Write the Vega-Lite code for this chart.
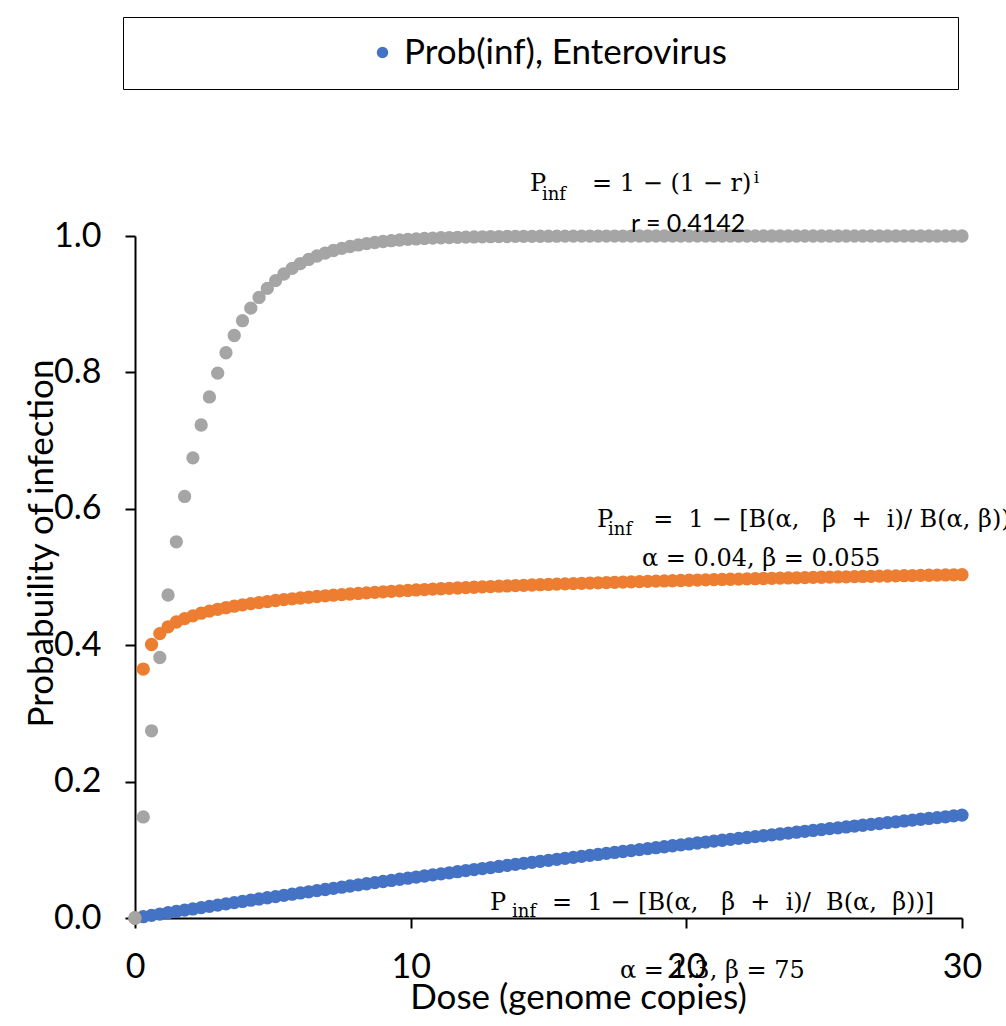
{
  "$schema": "https://vega.github.io/schema/vega-lite/v6.json",
  "width": 827,
  "height": 682,
  "autosize": {"type": "none"},
  "padding": {"left": 135, "top": 236, "right": 44, "bottom": 108},
  "background": "white",
  "config": {
    "view": {"stroke": null},
    "axis": {
      "grid": false,
      "domainColor": "black",
      "domainWidth": 2,
      "tickColor": "black",
      "tickWidth": 2,
      "tickSize": 10,
      "labelFont": "Lato",
      "labelFontSize": 34,
      "labelColor": "black",
      "titleFont": "Lato",
      "titleFontSize": 35,
      "titleFontWeight": "normal",
      "titleColor": "black"
    }
  },
  "datasets": {
    "entero": [{"dose":0,"prob":0},{"dose":0.3,"prob":0.0019},{"dose":0.6,"prob":0.0039},{"dose":0.9,"prob":0.0058},{"dose":1.2,"prob":0.0077},{"dose":1.5,"prob":0.0096},{"dose":1.8,"prob":0.0115},{"dose":2.1,"prob":0.0133},{"dose":2.4,"prob":0.0152},{"dose":2.7,"prob":0.017},{"dose":3,"prob":0.0189},{"dose":3.3,"prob":0.0207},{"dose":3.6,"prob":0.0225},{"dose":3.9,"prob":0.0243},{"dose":4.2,"prob":0.0261},{"dose":4.5,"prob":0.0279},{"dose":4.8,"prob":0.0297},{"dose":5.1,"prob":0.0314},{"dose":5.4,"prob":0.0332},{"dose":5.7,"prob":0.0349},{"dose":6,"prob":0.0367},{"dose":6.3,"prob":0.0384},{"dose":6.6,"prob":0.0401},{"dose":6.9,"prob":0.0418},{"dose":7.2,"prob":0.0435},{"dose":7.5,"prob":0.0452},{"dose":7.8,"prob":0.0469},{"dose":8.1,"prob":0.0486},{"dose":8.4,"prob":0.0502},{"dose":8.7,"prob":0.0519},{"dose":9,"prob":0.0535},{"dose":9.3,"prob":0.0551},{"dose":9.6,"prob":0.0568},{"dose":9.9,"prob":0.0584},{"dose":10.2,"prob":0.06},{"dose":10.5,"prob":0.0616},{"dose":10.8,"prob":0.0632},{"dose":11.1,"prob":0.0647},{"dose":11.4,"prob":0.0663},{"dose":11.7,"prob":0.0679},{"dose":12,"prob":0.0694},{"dose":12.3,"prob":0.071},{"dose":12.6,"prob":0.0725},{"dose":12.9,"prob":0.074},{"dose":13.2,"prob":0.0756},{"dose":13.5,"prob":0.0771},{"dose":13.8,"prob":0.0786},{"dose":14.1,"prob":0.0801},{"dose":14.4,"prob":0.0816},{"dose":14.7,"prob":0.0831},{"dose":15,"prob":0.0845},{"dose":15.3,"prob":0.086},{"dose":15.6,"prob":0.0875},{"dose":15.9,"prob":0.0889},{"dose":16.2,"prob":0.0904},{"dose":16.5,"prob":0.0918},{"dose":16.8,"prob":0.0932},{"dose":17.1,"prob":0.0947},{"dose":17.4,"prob":0.0961},{"dose":17.7,"prob":0.0975},{"dose":18,"prob":0.0989},{"dose":18.3,"prob":0.1003},{"dose":18.6,"prob":0.1017},{"dose":18.9,"prob":0.1031},{"dose":19.2,"prob":0.1045},{"dose":19.5,"prob":0.1059},{"dose":19.8,"prob":0.1072},{"dose":20.1,"prob":0.1086},{"dose":20.4,"prob":0.11},{"dose":20.7,"prob":0.1113},{"dose":21,"prob":0.1127},{"dose":21.3,"prob":0.114},{"dose":21.6,"prob":0.1153},{"dose":21.9,"prob":0.1167},{"dose":22.2,"prob":0.118},{"dose":22.5,"prob":0.1193},{"dose":22.8,"prob":0.1206},{"dose":23.1,"prob":0.1219},{"dose":23.4,"prob":0.1232},{"dose":23.7,"prob":0.1245},{"dose":24,"prob":0.1258},{"dose":24.3,"prob":0.1271},{"dose":24.6,"prob":0.1284},{"dose":24.9,"prob":0.1297},{"dose":25.2,"prob":0.131},{"dose":25.5,"prob":0.1322},{"dose":25.8,"prob":0.1335},{"dose":26.1,"prob":0.1348},{"dose":26.4,"prob":0.136},{"dose":26.7,"prob":0.1373},{"dose":27,"prob":0.1385},{"dose":27.3,"prob":0.1398},{"dose":27.6,"prob":0.141},{"dose":27.9,"prob":0.1423},{"dose":28.2,"prob":0.1435},{"dose":28.5,"prob":0.1448},{"dose":28.8,"prob":0.146},{"dose":29.1,"prob":0.1472},{"dose":29.4,"prob":0.1484},{"dose":29.7,"prob":0.1497},{"dose":30,"prob":0.1509}],
    "betapoisson": [{"dose":0,"prob":0},{"dose":0.3,"prob":0.365},{"dose":0.6,"prob":0.401},{"dose":0.9,"prob":0.417},{"dose":1.2,"prob":0.427},{"dose":1.5,"prob":0.434},{"dose":1.8,"prob":0.439},{"dose":2.1,"prob":0.443},{"dose":2.4,"prob":0.4469},{"dose":2.7,"prob":0.45},{"dose":3,"prob":0.4526},{"dose":3.3,"prob":0.455},{"dose":3.6,"prob":0.4572},{"dose":3.9,"prob":0.4591},{"dose":4.2,"prob":0.4609},{"dose":4.5,"prob":0.4625},{"dose":4.8,"prob":0.464},{"dose":5.1,"prob":0.4655},{"dose":5.4,"prob":0.4668},{"dose":5.7,"prob":0.468},{"dose":6,"prob":0.4692},{"dose":6.3,"prob":0.4703},{"dose":6.6,"prob":0.4714},{"dose":6.9,"prob":0.4724},{"dose":7.2,"prob":0.4733},{"dose":7.5,"prob":0.4742},{"dose":7.8,"prob":0.4751},{"dose":8.1,"prob":0.4759},{"dose":8.4,"prob":0.4767},{"dose":8.7,"prob":0.4775},{"dose":9,"prob":0.4782},{"dose":9.3,"prob":0.479},{"dose":9.6,"prob":0.4797},{"dose":9.9,"prob":0.4803},{"dose":10.2,"prob":0.481},{"dose":10.5,"prob":0.4816},{"dose":10.8,"prob":0.4822},{"dose":11.1,"prob":0.4828},{"dose":11.4,"prob":0.4834},{"dose":11.7,"prob":0.4839},{"dose":12,"prob":0.4845},{"dose":12.3,"prob":0.485},{"dose":12.6,"prob":0.4855},{"dose":12.9,"prob":0.486},{"dose":13.2,"prob":0.4865},{"dose":13.5,"prob":0.4869},{"dose":13.8,"prob":0.4874},{"dose":14.1,"prob":0.4878},{"dose":14.4,"prob":0.4883},{"dose":14.7,"prob":0.4887},{"dose":15,"prob":0.4891},{"dose":15.3,"prob":0.4895},{"dose":15.6,"prob":0.4899},{"dose":15.9,"prob":0.4903},{"dose":16.2,"prob":0.4907},{"dose":16.5,"prob":0.4911},{"dose":16.8,"prob":0.4915},{"dose":17.1,"prob":0.4918},{"dose":17.4,"prob":0.4922},{"dose":17.7,"prob":0.4925},{"dose":18,"prob":0.4929},{"dose":18.3,"prob":0.4932},{"dose":18.6,"prob":0.4936},{"dose":18.9,"prob":0.4939},{"dose":19.2,"prob":0.4942},{"dose":19.5,"prob":0.4945},{"dose":19.8,"prob":0.4949},{"dose":20.1,"prob":0.4952},{"dose":20.4,"prob":0.4955},{"dose":20.7,"prob":0.4958},{"dose":21,"prob":0.4961},{"dose":21.3,"prob":0.4964},{"dose":21.6,"prob":0.4967},{"dose":21.9,"prob":0.4969},{"dose":22.2,"prob":0.4972},{"dose":22.5,"prob":0.4975},{"dose":22.8,"prob":0.4978},{"dose":23.1,"prob":0.4981},{"dose":23.4,"prob":0.4983},{"dose":23.7,"prob":0.4986},{"dose":24,"prob":0.4988},{"dose":24.3,"prob":0.4991},{"dose":24.6,"prob":0.4994},{"dose":24.9,"prob":0.4996},{"dose":25.2,"prob":0.4999},{"dose":25.5,"prob":0.5001},{"dose":25.8,"prob":0.5003},{"dose":26.1,"prob":0.5006},{"dose":26.4,"prob":0.5008},{"dose":26.7,"prob":0.501},{"dose":27,"prob":0.5013},{"dose":27.3,"prob":0.5015},{"dose":27.6,"prob":0.5017},{"dose":27.9,"prob":0.5019},{"dose":28.2,"prob":0.5021},{"dose":28.5,"prob":0.5024},{"dose":28.8,"prob":0.5026},{"dose":29.1,"prob":0.5028},{"dose":29.4,"prob":0.503},{"dose":29.7,"prob":0.5032},{"dose":30,"prob":0.5034}],
    "exponential": [{"dose":0,"prob":0},{"dose":0.3,"prob":0.1482},{"dose":0.6,"prob":0.2745},{"dose":0.9,"prob":0.382},{"dose":1.2,"prob":0.4736},{"dose":1.5,"prob":0.5516},{"dose":1.8,"prob":0.6181},{"dose":2.1,"prob":0.6747},{"dose":2.4,"prob":0.7229},{"dose":2.7,"prob":0.764},{"dose":3,"prob":0.799},{"dose":3.3,"prob":0.8288},{"dose":3.6,"prob":0.8541},{"dose":3.9,"prob":0.8758},{"dose":4.2,"prob":0.8942},{"dose":4.5,"prob":0.9099},{"dose":4.8,"prob":0.9232},{"dose":5.1,"prob":0.9346},{"dose":5.4,"prob":0.9443},{"dose":5.7,"prob":0.9525},{"dose":6,"prob":0.9596},{"dose":6.3,"prob":0.9656},{"dose":6.6,"prob":0.9707},{"dose":6.9,"prob":0.975},{"dose":7.2,"prob":0.9787},{"dose":7.5,"prob":0.9819},{"dose":7.8,"prob":0.9846},{"dose":8.1,"prob":0.9869},{"dose":8.4,"prob":0.9888},{"dose":8.7,"prob":0.9905},{"dose":9,"prob":0.9919},{"dose":9.3,"prob":0.9931},{"dose":9.6,"prob":0.9941},{"dose":9.9,"prob":0.995},{"dose":10.2,"prob":0.9957},{"dose":10.5,"prob":0.9964},{"dose":10.8,"prob":0.9969},{"dose":11.1,"prob":0.9974},{"dose":11.4,"prob":0.9977},{"dose":11.7,"prob":0.9981},{"dose":12,"prob":0.9984},{"dose":12.3,"prob":0.9986},{"dose":12.6,"prob":0.9988},{"dose":12.9,"prob":0.999},{"dose":13.2,"prob":0.9991},{"dose":13.5,"prob":0.9993},{"dose":13.8,"prob":0.9994},{"dose":14.1,"prob":0.9995},{"dose":14.4,"prob":0.9995},{"dose":14.7,"prob":0.9996},{"dose":15,"prob":0.9997},{"dose":15.3,"prob":0.9997},{"dose":15.6,"prob":0.9998},{"dose":15.9,"prob":0.9998},{"dose":16.2,"prob":0.9998},{"dose":16.5,"prob":0.9999},{"dose":16.8,"prob":0.9999},{"dose":17.1,"prob":0.9999},{"dose":17.4,"prob":0.9999},{"dose":17.7,"prob":0.9999},{"dose":18,"prob":0.9999},{"dose":18.3,"prob":1},{"dose":18.6,"prob":1},{"dose":18.9,"prob":1},{"dose":19.2,"prob":1},{"dose":19.5,"prob":1},{"dose":19.8,"prob":1},{"dose":20.1,"prob":1},{"dose":20.4,"prob":1},{"dose":20.7,"prob":1},{"dose":21,"prob":1},{"dose":21.3,"prob":1},{"dose":21.6,"prob":1},{"dose":21.9,"prob":1},{"dose":22.2,"prob":1},{"dose":22.5,"prob":1},{"dose":22.8,"prob":1},{"dose":23.1,"prob":1},{"dose":23.4,"prob":1},{"dose":23.7,"prob":1},{"dose":24,"prob":1},{"dose":24.3,"prob":1},{"dose":24.6,"prob":1},{"dose":24.9,"prob":1},{"dose":25.2,"prob":1},{"dose":25.5,"prob":1},{"dose":25.8,"prob":1},{"dose":26.1,"prob":1},{"dose":26.4,"prob":1},{"dose":26.7,"prob":1},{"dose":27,"prob":1},{"dose":27.3,"prob":1},{"dose":27.6,"prob":1},{"dose":27.9,"prob":1},{"dose":28.2,"prob":1},{"dose":28.5,"prob":1},{"dose":28.8,"prob":1},{"dose":29.1,"prob":1},{"dose":29.4,"prob":1},{"dose":29.7,"prob":1},{"dose":30,"prob":1}],
    "formulas": [
      {"dose":14.33,"prob":1.066,"text":"P"},
      {"dose":16.58,"prob":1.066,"text":"= 1 − (1 − r)"},
      {"dose":16.76,"prob":0.5733,"text":"P"},
      {"dose":18.8,"prob":0.5733,"text":"=\u00a0 1 − [B(α,\u00a0\u00a0 β\u00a0 +\u00a0 i)/ B(α, β))"},
      {"dose":18.39,"prob":0.5161,"text":"α = 0.04, β = 0.055"},
      {"dose":12.88,"prob":0.0117,"text":"P"},
      {"dose":15.13,"prob":0.0117,"text":"=\u00a0 1 − [B(α,\u00a0\u00a0 β\u00a0 +\u00a0 i)/\u00a0 B(α,\u00a0 β))]"},
      {"dose":17.59,"prob":-0.088,"text":"α = 1.3, β = 75"}
    ],
    "subscripts": [
      {"dose":14.76,"prob":1.053,"text":"inf"},
      {"dose":17.16,"prob":0.5616,"text":"inf"},
      {"dose":13.68,"prob":0.0015,"text":"inf"}
    ],
    "superscripts": [
      {"dose":22.45,"prob":1.0777,"text":"i"}
    ],
    "notes": [
      {"dose":17.99,"prob":1.0059,"text":"r = 0.4142"}
    ]
  },
  "encoding": {
    "x": {
      "field": "dose",
      "type": "quantitative",
      "scale": {"domain": [0, 30], "nice": false, "zero": false},
      "axis": {
        "values": [0, 10, 20, 30],
        "format": "d",
        "labelFlush": false,
        "labelPadding": 22,
        "title": "Dose (genome copies)",
        "titleX": 443,
        "titleY": 90,
        "titleBaseline": "alphabetic",
        "titleAlign": "center"
      }
    },
    "y": {
      "field": "prob",
      "type": "quantitative",
      "scale": {"domain": [0, 1], "nice": false, "zero": false},
      "axis": {
        "values": [0, 0.2, 0.4, 0.6, 0.8, 1],
        "format": ".1f",
        "labelPadding": 24,
        "title": "Probabuility of infection",
        "titleX": -83,
        "titleY": 307,
        "titleAngle": 270,
        "titleBaseline": "alphabetic",
        "titleAlign": "center"
      }
    }
  },
  "layer": [
    {
      "data": {"name": "entero"},
      "mark": {"type": "point", "filled": true, "size": 177, "opacity": 1},
      "encoding": {
        "color": {
          "datum": "Prob(inf), Enterovirus",
          "type": "nominal",
          "scale": {
            "domain": ["Prob(inf), Enterovirus", "Prob(inf), beta-Poisson", "Prob(inf), exponential"],
            "range": ["#4472C4", "#ED7D31", "#A5A5A5"]
          },
          "legend": {
            "values": ["Prob(inf), Enterovirus"],
            "orient": "none",
            "legendX": -12,
            "legendY": -219,
            "title": "\u00a0",
            "titleOrient": "left",
            "titleFontSize": 1,
            "titlePadding": 224,
            "padding": 18,
            "strokeColor": "black",
            "symbolType": "circle",
            "symbolSize": 130,
            "symbolStrokeWidth": 0,
            "labelFont": "Lato",
            "labelFontSize": 35,
            "labelColor": "black",
            "labelOffset": 4,
            "labelLimit": 1000,
            "labelExpr": "datum.label + '\u2003\u2003\u2003\u2003\u2003\u2003\u2002\u2004\u2800'",
            "encode": {"legend": {"update": {"strokeWidth": {"value": 2}}}}
          }
        }
      }
    },
    {
      "data": {"name": "betapoisson"},
      "mark": {"type": "point", "filled": true, "size": 177, "opacity": 1},
      "encoding": {"color": {"datum": "Prob(inf), beta-Poisson", "type": "nominal"}}
    },
    {
      "data": {"name": "exponential"},
      "mark": {"type": "point", "filled": true, "size": 177, "opacity": 1},
      "encoding": {"color": {"datum": "Prob(inf), exponential", "type": "nominal"}}
    },
    {
      "data": {"name": "formulas"},
      "mark": {"type": "text", "font": "DejaVu Serif", "fontSize": 24, "align": "left", "baseline": "alphabetic", "color": "black"},
      "encoding": {"text": {"field": "text"}}
    },
    {
      "data": {"name": "subscripts"},
      "mark": {"type": "text", "font": "DejaVu Serif", "fontSize": 18, "align": "left", "baseline": "alphabetic", "color": "black"},
      "encoding": {"text": {"field": "text"}}
    },
    {
      "data": {"name": "superscripts"},
      "mark": {"type": "text", "font": "DejaVu Serif", "fontSize": 17, "align": "left", "baseline": "alphabetic", "color": "black"},
      "encoding": {"text": {"field": "text"}}
    },
    {
      "data": {"name": "notes"},
      "mark": {"type": "text", "font": "Lato", "fontSize": 25, "align": "left", "baseline": "alphabetic", "color": "black"},
      "encoding": {"text": {"field": "text"}}
    }
  ]
}
